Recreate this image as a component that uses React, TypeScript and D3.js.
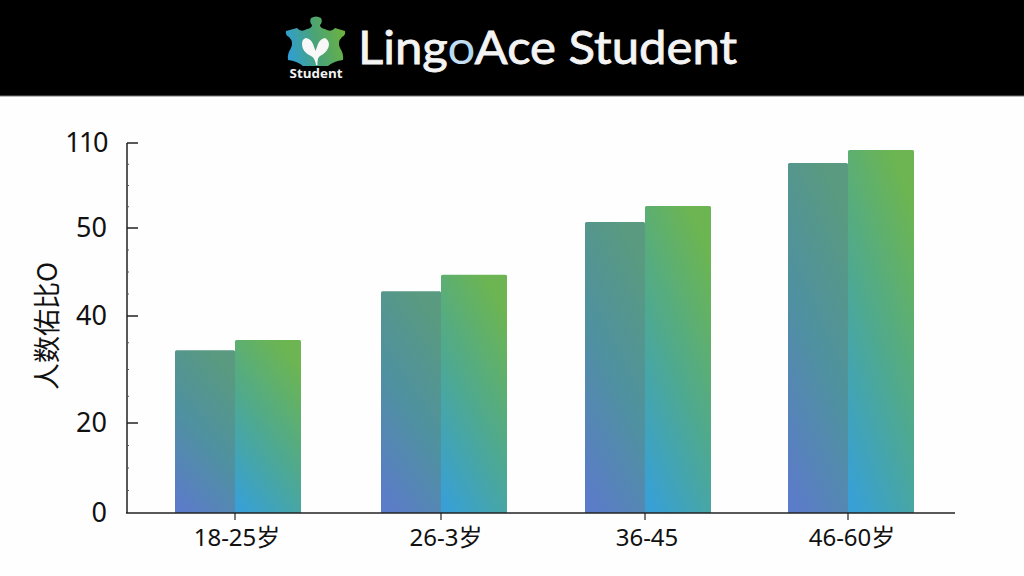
import React from "react";
import * as d3 from "d3";

const categories = ["18-25岁", "26-3岁", "36-45", "46-60岁"];
const categoryCentres = [235, 441, 645, 848];
const seriesA = [33.6, 42.8, 54.2, 95.9];
const seriesB = [35.5, 44.7, 65.5, 105];
const yTickValues = [0, 20, 40, 50, 110];
const yMinorValues = [5, 10, 15, 25, 30, 35, 42.5, 45, 47.5, 65, 80, 95];
const yTitle = "人数佑比O";
const titleStart = "Ling";
const titleO = "o";
const titleEnd = "Ace Student";
const logoLabel = "Student";

const W = 1024;
const H = 576;

export default function App() {
  const y = d3.scaleLinear().domain(yTickValues).range([513, 423, 316, 228, 143]);
  const x = d3.scaleOrdinal<string, number>().domain(categories).range(categoryCentres);
  const wA = 60;
  const wB = 66;
  const bar = (cx: number, v: number, w: number, fill: string, key: string) => (
    <path
      key={key}
      d={`M${cx},${y(0)}V${y(v) + 1.5}q0,-1.5 1.5,-1.5H${cx + w - 1.5}q1.5,0 1.5,1.5V${y(0)}Z`}
      fill={fill}
    />
  );
  return (
    <svg
      width={W}
      height={H}
      viewBox={`0 0 ${W} ${H}`}
      style={{ position: "absolute", left: 0, top: 0, background: "#fefefe" }}
    >
      <defs>
        <linearGradient id="gA" x1="0.2" y1="1" x2="0.6" y2="0">
          <stop offset="0" stopColor="#5b7cc8" />
          <stop offset="0.5" stopColor="#4f91a0" />
          <stop offset="1" stopColor="#599a80" />
        </linearGradient>
        <linearGradient id="gB" x1="0.15" y1="1" x2="0.65" y2="0">
          <stop offset="0" stopColor="#38a0d4" />
          <stop offset="0.5" stopColor="#4fa98e" />
          <stop offset="1" stopColor="#6cb552" />
        </linearGradient>
        <linearGradient id="logoG" x1="0" y1="0.6" x2="1" y2="0.4">
          <stop offset="0" stopColor="#2f9fd6" />
          <stop offset="0.5" stopColor="#4aa376" />
          <stop offset="1" stopColor="#6cb23f" />
        </linearGradient>
        <radialGradient id="oG" cx="0.5" cy="0.6" r="0.5">
          <stop offset="0" stopColor="#3a5a50" />
          <stop offset="0.4" stopColor="#a8d8f0" />
          <stop offset="0.8" stopColor="#e8e4f8" />
          <stop offset="1" stopColor="#f6f6f6" />
        </radialGradient>
      </defs>

      <rect x={0} y={0} width={W} height={96} fill="#000" />
      <rect x={0} y={95.5} width={W} height={1} fill="#777" />

      <path
        d="M311,18 Q316,15 321,18 Q323,22 320,25 Q320,28 325,29 Q331,33 335,28 L345,31 Q346,35 342,37 Q337,42 340,48 Q344,54 343,60 Q334,61 328,66 H303 Q297,61 288,60 Q287,54 291,48 Q294,42 289,37 Q285,35 286,31 L297,28 Q301,33 307,29 Q312,28 312,25 Q309,22 311,18 Z"
        fill="url(#logoG)"
      />
      <path
        d="M316,65 Q315,58 311,56 Q302,52 302,44 Q302,39 306,38 Q311,39 313,44 L315.5,51 L318,44 Q320,39 325,38 Q329,40 329,45 Q328,52 320,56 Q317,58 317.5,65 Z"
        fill="#f8f8f8"
      />
      <text x={316} y={78} textAnchor="middle" fontFamily="'Open Sans', sans-serif" fontWeight={700} fontSize={12.5} fill="#f2f2f2" textLength={53} lengthAdjust="spacingAndGlyphs">
        {logoLabel}
      </text>

      <text x={358} y={64} fontFamily="Lato, sans-serif" fontWeight={400} fontSize={46} fill="#f4f4f4" stroke="#f4f4f4" strokeWidth={0.8} textLength={379} lengthAdjust="spacingAndGlyphs">
        {titleStart}
        <tspan fill="url(#oG)" stroke="none">{titleO}</tspan>
        {titleEnd}
      </text>

      {categories.map((c, i) => {
        const cx = x(c) as number;
        return (
          <g key={c}>
            {bar(cx - wA, seriesA[i], wA, "url(#gA)", "a")}
            {bar(cx, seriesB[i], wB, "url(#gB)", "b")}
            <line x1={cx} x2={cx} y1={y(0)} y2={y(0) + 7} stroke="#222" strokeWidth={1.2} />
            <text
              x={cx + (i === 1 ? 5 : i === 3 ? 4 : 2)}
              y={546}
              textAnchor="middle"
              fontFamily="'Noto Sans', 'Noto Sans CJK SC', sans-serif"
              fontSize={24}
              fill="#111"
            >
              {c}
            </text>
          </g>
        );
      })}

      <line x1={127} x2={127} y1={y(110)} y2={y(0)} stroke="#222" strokeWidth={1.5} />
      <line x1={126} x2={955} y1={y(0)} y2={y(0)} stroke="#222" strokeWidth={1.5} />
      {yMinorValues.map((v) => (
        <line key={v} x1={127} x2={129} y1={y(v)} y2={y(v)} stroke="#555" strokeWidth={1} />
      ))}
      {yTickValues.map((v) => (
        <g key={v}>
          {v > 0 && <line x1={127} x2={138} y1={y(v)} y2={y(v)} stroke="#222" strokeWidth={1.5} />}
          <text
            x={107}
            y={y(v) + 9}
            textAnchor="end"
            fontFamily="'Noto Sans', sans-serif"
            fontSize={27}
            letterSpacing={v === 110 ? -1.5 : 0}
            fill="#111"
          >
            {v}
          </text>
        </g>
      ))}
      <text
        transform="translate(57,326) rotate(-90)"
        textAnchor="middle"
        fontFamily="'Noto Sans CJK SC', sans-serif"
        fontSize={27}
        fill="#111"
      >
        {yTitle}
      </text>
    </svg>
  );
}
